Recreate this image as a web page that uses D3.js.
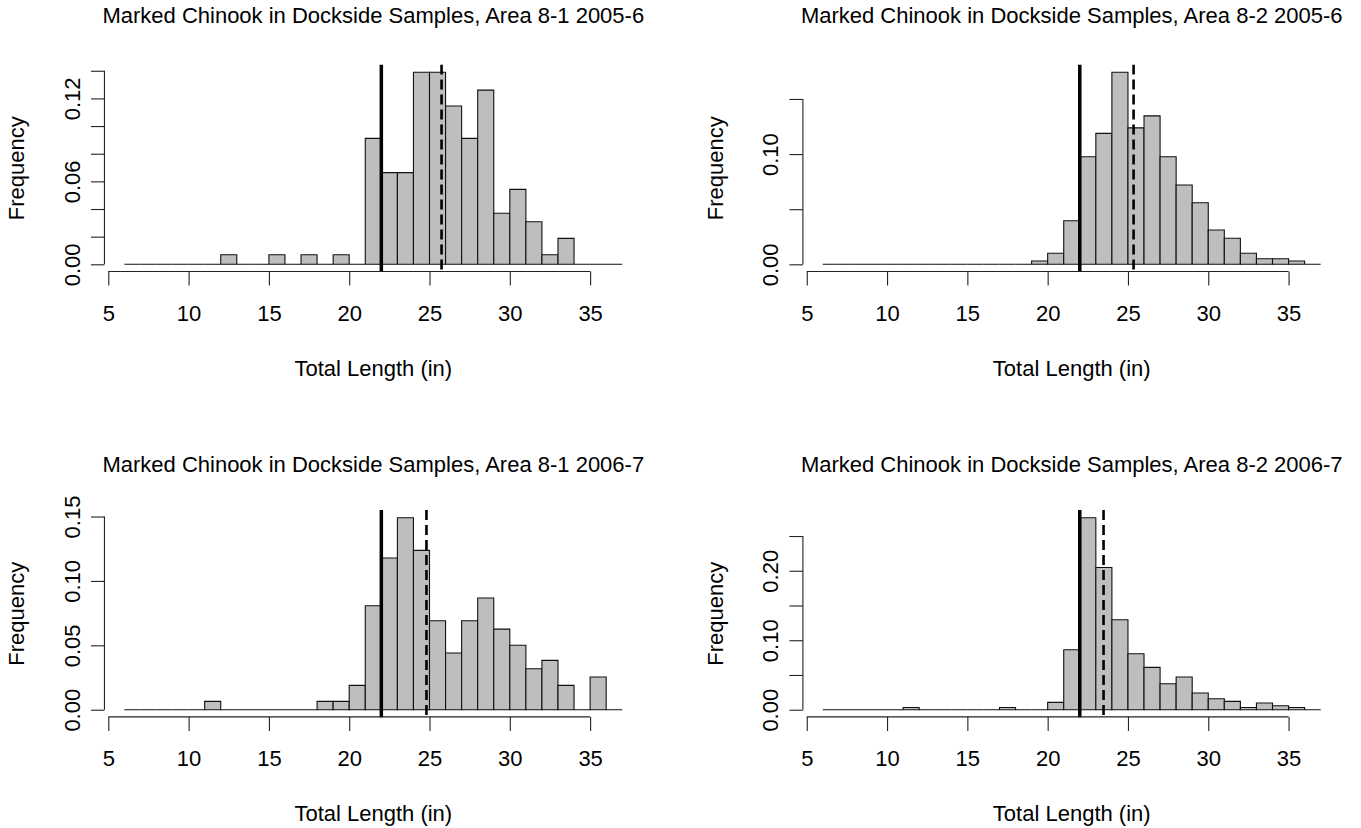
<!DOCTYPE html>
<html>
<head>
<meta charset="utf-8">
<script src="https://cdn.jsdelivr.net/npm/d3@7"></script>
<style>
  html, body { margin: 0; padding: 0; background: #ffffff; }
  svg { display: block; }
  text { font-family: "Liberation Sans", Arial, Helvetica, sans-serif; fill: #000; }
</style>
</head>
<body>
<svg id="chart" width="1361" height="828"></svg>
<script>
// Histogram bins: one inch wide, from 6 to 37 inches
const binStarts = d3.range(6, 37);

// Proportion of sampled fish in each 1-inch bin (bins 6-7 ... 36-37)
const area81_2005 = [0, 0, 0, 0, 0, 0, 0.0069, 0, 0, 0.0069, 0, 0.0069, 0, 0.0069, 0,
  0.0911, 0.0663, 0.0663, 0.1389, 0.1389, 0.1145, 0.0911, 0.1260, 0.0369, 0.0542,
  0.0308, 0.0069, 0.0188, 0, 0, 0];
const area82_2005 = [0, 0, 0, 0, 0, 0, 0, 0, 0, 0, 0, 0, 0, 0.0030, 0.0100,
  0.0395, 0.0976, 0.1188, 0.1742, 0.1238, 0.1347, 0.0976, 0.0719, 0.0559, 0.0311,
  0.0236, 0.0100, 0.0051, 0.0051, 0.0030, 0];
const area81_2006 = [0, 0, 0, 0, 0, 0.0065, 0, 0, 0, 0, 0, 0, 0.0065, 0.0065, 0.0189,
  0.0807, 0.1178, 0.1491, 0.1237, 0.0691, 0.0440, 0.0691, 0.0867, 0.0626, 0.0500,
  0.0318, 0.0383, 0.0189, 0, 0.0254, 0];
const area82_2006 = [0, 0, 0, 0, 0, 0.0033, 0, 0, 0, 0, 0, 0.0033, 0, 0, 0.0105,
  0.0863, 0.2764, 0.2048, 0.1295, 0.0806, 0.0609, 0.0374, 0.0470, 0.0240, 0.0158,
  0.0120, 0.0033, 0.0096, 0.0058, 0.0033, 0];

// Reference lines: minimum size limit (solid) and mean length (dashed)
const minSizeLimit = [22, 22, 22, 22];
const meanLength = [25.75, 25.35, 24.81, 23.48];

// Panel titles
const titles = [
  "Marked Chinook in Dockside Samples, Area 8-1 2005-6",
  "Marked Chinook in Dockside Samples, Area 8-2 2005-6",
  "Marked Chinook in Dockside Samples, Area 8-1 2006-7",
  "Marked Chinook in Dockside Samples, Area 8-2 2006-7"
];

// Axis ticks and which of them carry a label
const xTicks = [5, 10, 15, 20, 25, 30, 35];
const yTicks = [
  [0, 0.02, 0.04, 0.06, 0.08, 0.10, 0.12, 0.14],
  [0, 0.05, 0.10, 0.15],
  [0, 0.05, 0.10, 0.15],
  [0, 0.05, 0.10, 0.15, 0.20, 0.25]
];
const yTickLabels = [
  ["0.00", "", "", "0.06", "", "", "0.12", ""],
  ["0.00", "", "0.10", ""],
  ["0.00", "0.05", "0.10", "0.15"],
  ["0.00", "", "0.10", "", "0.20", ""]
];

const series = [area81_2005, area82_2005, area81_2006, area82_2006];

// Plot-region placement of each panel
const panelLeft = [104.45, 802.9, 104.45, 802.9];
const panelTop = [64.6, 64.6, 510, 510];
const titleGap = [41.5, 41.5, 38, 38];
const plotW = 537.7, plotH = 207.4;
const fontSize = 22;

const svg = d3.select("#chart");

series.forEach((vals, i) => {
  const L = panelLeft[i], T = panelTop[i], B = T + plotH;
  const lo = binStarts[0], hi = binStarts[binStarts.length - 1] + 1;
  const xr = (hi - lo) * 0.04;
  const ymax = d3.max(vals);
  const x = d3.scaleLinear().domain([lo - xr, hi + xr]).range([L, L + plotW]);
  const y = d3.scaleLinear().domain([-0.04 * ymax, 1.04 * ymax]).range([B, T]);

  const g = svg.append("g");

  const clipId = "clip" + i;
  svg.append("clipPath").attr("id", clipId)
    .append("rect").attr("x", L).attr("y", T).attr("width", plotW).attr("height", plotH);

  // bars (closed outlines, so empty bins still show along the baseline)
  g.selectAll("path.bar").data(vals).join("path")
    .attr("class", "bar")
    .attr("d", (d, j) => {
      const x0 = x(binStarts[j]), x1 = x(binStarts[j] + 1);
      const y0 = y(0), y1 = y(d);
      return `M${x0},${y0}H${x1}V${y1}H${x0}Z`;
    })
    .attr("fill", "#bebebe")
    .attr("stroke", "#111")
    .attr("stroke-width", 1.1);

  // reference lines
  const lines = g.append("g").attr("clip-path", `url(#${clipId})`);
  lines.append("line")
    .attr("x1", x(minSizeLimit[i])).attr("x2", x(minSizeLimit[i]))
    .attr("y1", T).attr("y2", B)
    .attr("stroke", "#000").attr("stroke-width", 3.5);
  lines.append("line")
    .attr("x1", x(meanLength[i])).attr("x2", x(meanLength[i]))
    .attr("y1", T).attr("y2", B)
    .attr("stroke", "#000").attr("stroke-width", 2.6)
    .attr("stroke-dasharray", "10,5");

  // x axis
  const axY = B - 0.5;
  const xa = g.append("g").attr("transform", `translate(0,${axY})`)
    .call(d3.axisBottom(x).tickValues(xTicks).tickSize(14).tickSizeOuter(0).tickFormat(d3.format("d")));
  xa.select(".domain").remove();
  xa.append("line")
    .attr("x1", x(xTicks[0])).attr("x2", x(xTicks[xTicks.length - 1]))
    .attr("y1", 0).attr("y2", 0).attr("stroke", "#222").attr("stroke-width", 1.1);
  xa.selectAll(".tick line").attr("stroke", "#222").attr("stroke-width", 1.1);
  xa.selectAll(".tick text")
    .attr("y", 49).attr("dy", null)
    .attr("font-size", fontSize).attr("font-family", null).attr("fill", "#000");

  // y axis
  const yt = yTicks[i], yl = yTickLabels[i];
  const ya = g.append("g").attr("transform", `translate(${L},0)`)
    .call(d3.axisLeft(y).tickValues(yt).tickSize(13.5).tickSizeOuter(0)
      .tickFormat((d, j) => yl[j]));
  ya.select(".domain").remove();
  ya.append("line")
    .attr("x1", 0).attr("x2", 0)
    .attr("y1", y(yt[0])).attr("y2", y(yt[yt.length - 1]))
    .attr("stroke", "#222").attr("stroke-width", 1.1);
  ya.selectAll(".tick line").attr("stroke", "#222").attr("stroke-width", 1.1);
  ya.selectAll(".tick text")
    .attr("x", null).attr("dy", null)
    .attr("transform", "translate(-24.8,0) rotate(-90)")
    .attr("text-anchor", "middle")
    .attr("font-size", fontSize).attr("font-family", null).attr("fill", "#000");

  // titles and axis labels
  const cx = L + plotW / 2;
  g.append("text").attr("x", cx).attr("y", T - titleGap[i])
    .attr("text-anchor", "middle").attr("font-size", fontSize)
    .text(titles[i]);
  g.append("text").attr("x", cx).attr("y", axY + 104)
    .attr("text-anchor", "middle").attr("font-size", fontSize)
    .text("Total Length (in)");
  g.append("text")
    .attr("transform", `translate(${L - 80},${(T + B) / 2}) rotate(-90)`)
    .attr("text-anchor", "middle").attr("font-size", fontSize)
    .text("Frequency");
});
</script>
</body>
</html>
